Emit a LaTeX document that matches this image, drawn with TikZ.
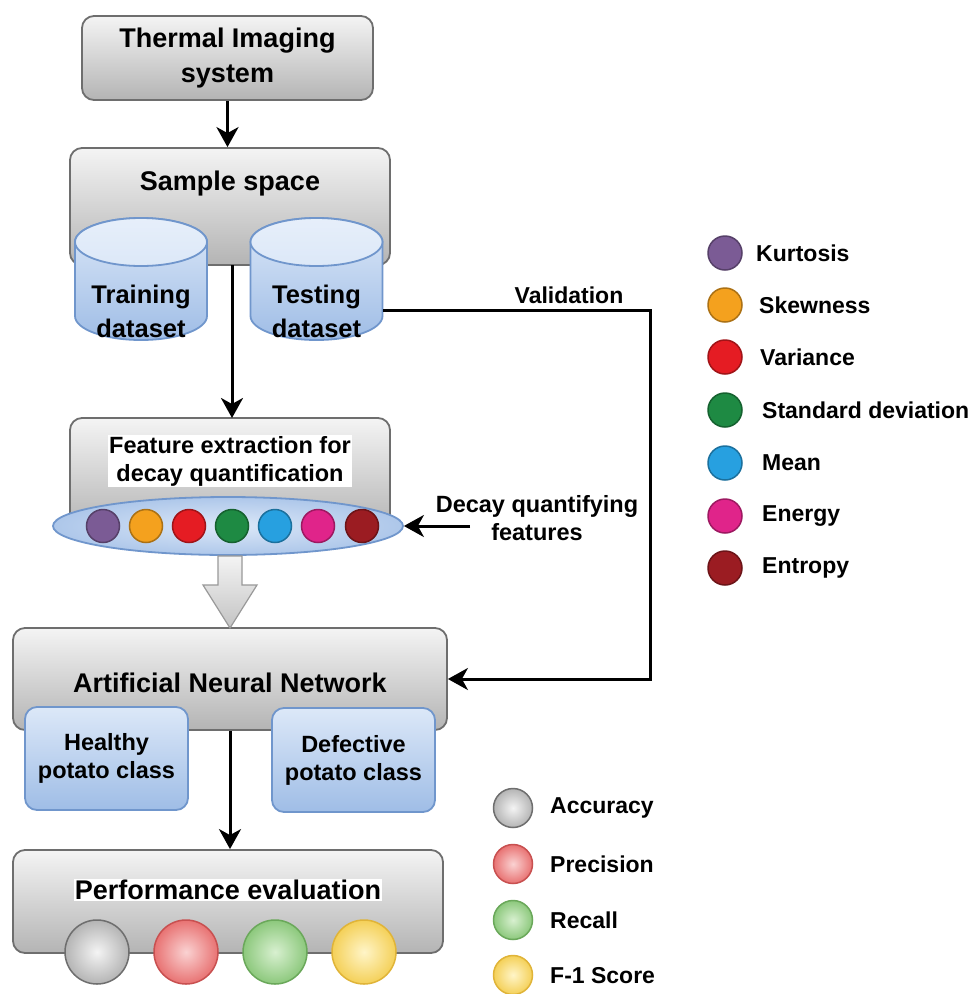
\documentclass[tikz,border=0pt]{standalone}
\usepackage{fontspec}
\setmainfont{Liberation Sans}
\usetikzlibrary{shapes.geometric,arrows.meta}
\definecolor{gtop}{HTML}{F4F4F4}
\definecolor{gbot}{HTML}{B4B4B4}
\definecolor{gborder}{HTML}{6E6E6E}
\definecolor{btop}{HTML}{DCE8F8}
\definecolor{bbot}{HTML}{9FBDE6}
\definecolor{bborder}{HTML}{7096CC}
\definecolor{kpurple}{HTML}{7B5B95}
\definecolor{korange}{HTML}{F4A11E}
\definecolor{kred}{HTML}{E51C23}
\definecolor{kgreen}{HTML}{1E8A43}
\definecolor{kblue}{HTML}{27A0E0}
\definecolor{kpink}{HTML}{E0248A}
\definecolor{kdred}{HTML}{9B1C22}
\definecolor{rin}{HTML}{FAD2D2}
\definecolor{rout}{HTML}{E87272}
\definecolor{rbd}{HTML}{C85050}
\definecolor{gin}{HTML}{D8F0D0}
\definecolor{gout}{HTML}{8CC87C}
\definecolor{gbd}{HTML}{6AA85A}
\definecolor{yin}{HTML}{FFF5C8}
\definecolor{yout}{HTML}{F4D058}
\definecolor{ybd}{HTML}{E0B438}
\newcommand{\fA}{\fontsize{27}{35}\selectfont\bfseries}
\newcommand{\fB}{\fontsize{25.5}{34}\selectfont\bfseries}
\newcommand{\fC}{\fontsize{23.5}{28}\selectfont\bfseries}
\newcommand{\fD}{\fontsize{23}{28}\selectfont\bfseries}
\newcommand{\mycyl}[1]{%
  \path[top color=btop,bottom color=bbot,draw=bborder,line width=1.8pt]
    (#1-66,242) -- (#1-66,316)
    arc[start angle=180,end angle=360,x radius=66pt,y radius=24pt]
    -- (#1+66,242)
    arc[start angle=0,end angle=180,x radius=66pt,y radius=24pt] -- cycle;
  \path[top color=btop!70!white,bottom color=btop,draw=bborder,line width=1.8pt]
    (#1,242) ellipse[x radius=66pt,y radius=24pt];
}
\tikzset{
  graybox/.style={draw=gborder,line width=1.8pt,rounded corners=12pt,top color=gtop,bottom color=gbot},
  bluebox/.style={draw=bborder,line width=1.8pt,rounded corners=12pt,top color=btop,bottom color=bbot},
  conn/.style={line width=3pt,-{Stealth[length=20pt,width=22pt,inset=6pt]}},
  dot/.style={circle,line width=1.5pt,minimum size=33pt,inner sep=0pt},
  ldot/.style={circle,line width=1.5pt,minimum size=34pt,inner sep=0pt},
  grayball/.style={circle,line width=1.5pt,draw=gborder,inner color=gtop,outer color=gbot},
  redball/.style={circle,line width=1.5pt,draw=rbd,inner color=rin,outer color=rout},
  greenball/.style={circle,line width=1.5pt,draw=gbd,inner color=gin,outer color=gout},
  yellowball/.style={circle,line width=1.5pt,draw=ybd,inner color=yin,outer color=yout},
}
\begin{document}
\begin{tikzpicture}[x=1pt,y=-1pt]
\useasboundingbox (0,0) rectangle (977,994);
\fill[white] (0,0) rectangle (977,994);

% Thermal imaging
\node[graybox,minimum width=291pt,minimum height=84pt,align=center,font=\fA] (thermal) at (227.5,58) {Thermal Imaging\\system};

% Sample space
\node[graybox,minimum width=320pt,minimum height=117pt] (sample) at (230,206.5) {};
\node[font=\fA] (sampletxt) at (230,184) {Sample space};
\mycyl{141}
\mycyl{316.5}
\node[font=\fB,align=center] (train) at (141,311) {Training\\dataset};
\node[font=\fB,align=center] (test) at (316.5,311) {Testing\\dataset};
\coordinate (testE) at (383,310);

% Feature extraction
\node[graybox,minimum width=320pt,minimum height=112pt] (featbox) at (230,474) {};
\node[font=\fC,align=center,fill=white,inner sep=1pt] (feattxt) at (230,461) {Feature extraction for\\decay quantification};
\node[ellipse,draw=bborder,line width=1.8pt,inner color=btop,outer color=bbot!85!white,minimum width=350pt,minimum height=58pt] (feat) at (228,526) {};
\foreach \x/\c [count=\i] in {103/kpurple,146/korange,189/kred,232/kgreen,275/kblue,318/kpink,362/kdred}
  \node[dot,fill=\c,draw=\c!70!black] (d\i) at (\x,526) {};

% Decay quantifying features
\coordinate (decS) at (470,526);
\node[font=\fC,align=center] (dectxt) at (537,518) {Decay quantifying\\features};

% ANN
\node[graybox,minimum width=434pt,minimum height=102pt] (ann) at (230,679) {};
\node[font=\fA] (anntxt) at (230,683) {Artificial Neural Network};
\node[bluebox,minimum width=163pt,minimum height=103pt,align=center,font=\fC] (healthy) at (106.5,758.5) {Healthy\\potato class};
\node[bluebox,minimum width=163pt,minimum height=104pt,align=center,font=\fC] (defect) at (353.5,760) {Defective\\potato class};

% Performance evaluation
\node[graybox,minimum width=430pt,minimum height=103pt] (perf) at (228,901.5) {};
\node[font=\fA,fill=white,inner sep=1pt] (perftxt) at (228,890) {Performance evaluation};
\node[grayball,minimum size=64pt] (p1) at (97,952) {};
\node[redball,minimum size=64pt] (p2) at (186,952) {};
\node[greenball,minimum size=64pt] (p3) at (275,952) {};
\node[yellowball,minimum size=64pt] (p4) at (364,952) {};

% Connectors
\draw[conn] (thermal.south) -- (thermal.south |- sample.north);
\draw[conn] (232,265) -- (232,418);
\draw[conn] (ann.south) -- (ann.south |- perf.north);
\draw[conn] (decS) -- (feat.east);
\draw[conn] (testE) -- (650,310) |- (ann.east);
\node[font=\fD] (valtxt) at (569,295) {Validation};

% Hollow arrow
\path[draw=gborder!70!white,line width=1.2pt,top color=gtop,bottom color=gbot!80!white]
  (218,556) -- (242,556) -- (242,585) -- (257,585) -- (230,628) -- (203,585) -- (218,585) -- cycle;

% Feature legend
\foreach \y/\c/\t/\tx [count=\i] in {253/kpurple/Kurtosis/756,305/korange/Skewness/759,357/kred/Variance/760,410/kgreen/Standard deviation/762,463/kblue/Mean/762,516/kpink/Energy/762,568/kdred/Entropy/762}{
  \node[ldot,fill=\c,draw=\c!70!black] (lg\i) at (725,\y) {};
  \node[font=\fD,anchor=west,inner sep=0pt] (lt\i) at (\tx,\y) {\t};
}

% Performance legend
\node[grayball,minimum size=39pt] (q1) at (513,808) {};
\node[redball,minimum size=39pt] (q2) at (513,864) {};
\node[greenball,minimum size=39pt] (q3) at (513,920) {};
\node[yellowball,minimum size=39pt] (q4) at (513,975) {};
\node[font=\fD,anchor=west,inner sep=0pt] (qt1) at (550,808) {Accuracy};
\node[font=\fD,anchor=west,inner sep=0pt] (qt2) at (550,864) {Precision};
\node[font=\fD,anchor=west,inner sep=0pt] (qt3) at (550,920) {Recall};
\node[font=\fD,anchor=west,inner sep=0pt] (qt4) at (550,976) {F-1 Score};
\end{tikzpicture}
\end{document}
